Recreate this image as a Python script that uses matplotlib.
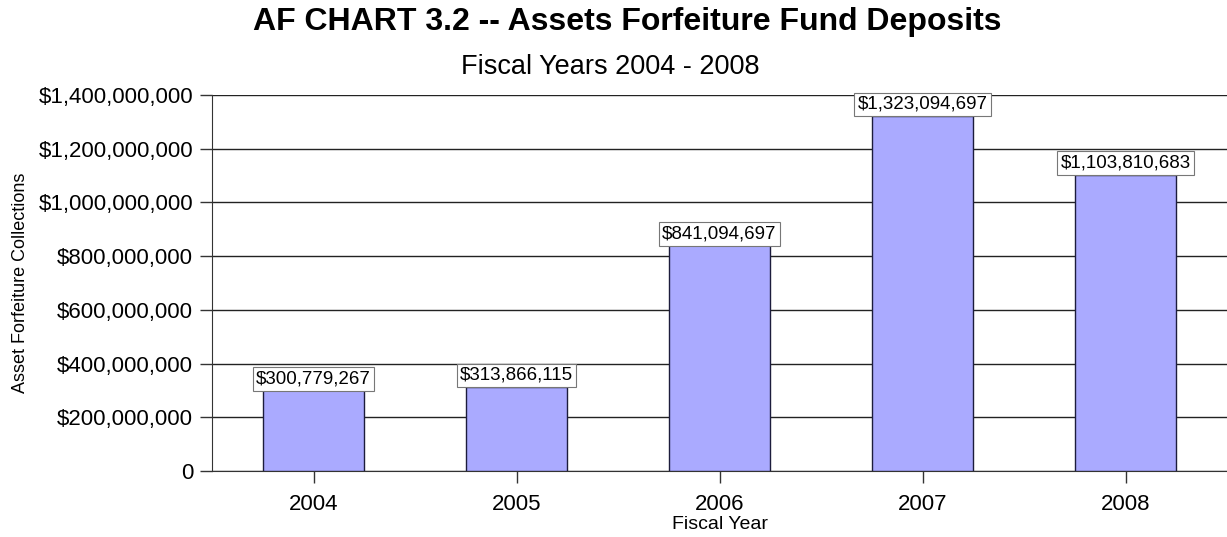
"""AF Chart 3.2 -- Assets Forfeiture Fund deposits, FY 2004-2008."""
import matplotlib
matplotlib.use("Agg")
from matplotlib import pyplot as plt
from matplotlib.ticker import FuncFormatter

years = ["2004", "2005", "2006", "2007", "2008"]
deposits = [300779267, 313866115, 841094697, 1323094697, 1103810683]
y_ticks = [0, 200e6, 400e6, 600e6, 800e6, 1000e6, 1200e6, 1400e6]

plt.rcParams["font.family"] = ["Liberation Sans", "DejaVu Sans"]


def money(v, _pos=None):
    if v == 0:
        return "0"
    return f"${v:,.0f}"


fig = plt.figure(figsize=(12.27, 5.37), dpi=100)
ax = fig.add_axes([212 / 1227, 66 / 537, 1015 / 1227, 376 / 537])

x = range(len(years))
ax.bar(x, deposits, width=0.5, color="#aaaaff", edgecolor="#1c1c3c",
       linewidth=1.0, zorder=3)

for xi, v in zip(x, deposits):
    ax.annotate(money(v), (xi, v), xytext=(0, 2.0), textcoords="offset points",
                ha="center", va="bottom", fontsize=13.5, zorder=4,
                bbox=dict(boxstyle="square,pad=0.18", fc="white",
                          ec="#777777", lw=0.8))

ax.set_xlim(-0.5, 4.5)
ax.set_ylim(0, 1400e6)
ax.set_xticks(list(x))
ax.set_xticklabels(years)
ax.set_yticks(y_ticks)
ax.yaxis.set_major_formatter(FuncFormatter(money))
ax.tick_params(axis="both", labelsize=16, length=8.5, width=1, color="#333333")
ax.tick_params(axis="x", pad=8)
ax.tick_params(axis="y", pad=5)
ax.grid(axis="y", color="#222222", linewidth=1.0, zorder=0)

for side in ("top", "right"):
    ax.spines[side].set_visible(False)
for side in ("left", "bottom"):
    ax.spines[side].set_color("#333333")

ax.set_xlabel("Fiscal Year", fontsize=14, labelpad=1)
ax.set_ylabel("Asset Forfeiture Collections", fontsize=13, labelpad=7)

fig.text(0.511, 0.959, "AF CHART 3.2 -- Assets Forfeiture Fund Deposits",
         ha="center", va="center", fontsize=23, fontweight="bold")
fig.text(0.497, 0.875, "Fiscal Years 2004 - 2008",
         ha="center", va="center", fontsize=19.5)

fig.savefig("out.png", dpi=100)
